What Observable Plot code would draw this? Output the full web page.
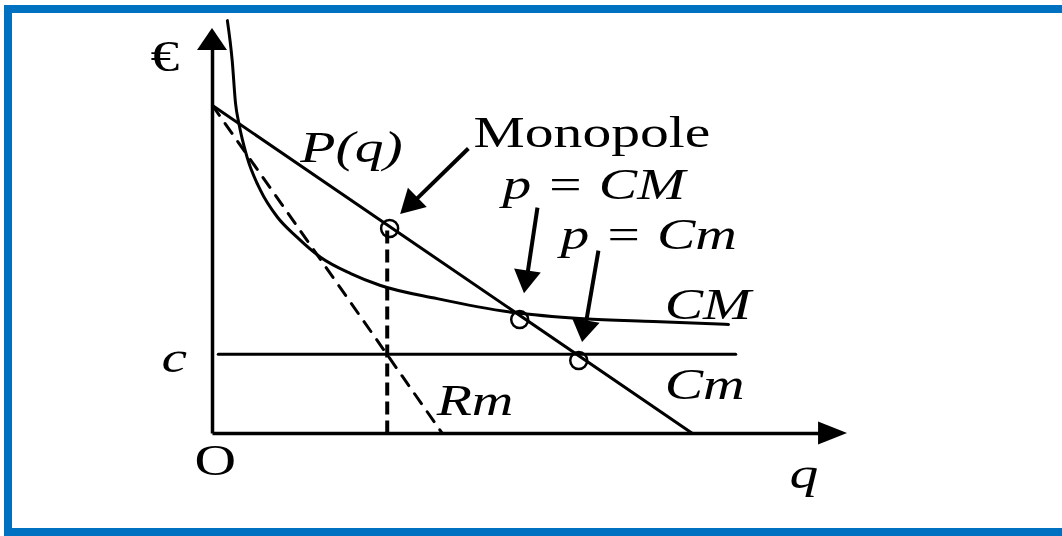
<!DOCTYPE html>
<html><head><meta charset="utf-8">
<script src="https://cdn.jsdelivr.net/npm/d3@7"></script>
<script src="https://cdn.jsdelivr.net/npm/@observablehq/plot@0.6"></script>
<style>
html,body{margin:0;padding:0;background:#fff;width:1062px;height:536px;overflow:hidden;}
#frame{position:absolute;left:4px;top:5px;width:1050px;height:515px;border-top:8px solid #0070C0;border-left:8px solid #0070C0;border-bottom:8px solid #0070C0;box-sizing:content-box;}
#chart{position:absolute;left:0;top:0;}
</style></head><body>
<div id="frame"></div><div id="chart"></div>
<script>
// ---- data (q = quantity, p = price in €) ----
const demandQ = [0, 10];
const demandP = [8, 0];
const rmQ = [0, 4.79];
const rmP = [8, 0];
const cmQ = [0.12, 10.9];
const cmP = [1.93, 1.93];
const acQ = [0.31, 0.41, 0.48, 0.55, 0.72, 1.0, 1.35, 1.76, 2.25, 2.88, 3.5, 4.68, 6.27, 7.73, 9.19, 10.75];
const acP = [10.07, 9.10, 8.05, 7.56, 6.74, 5.93, 5.28, 4.79, 4.30, 3.90, 3.61, 3.29, 2.95, 2.80, 2.73, 2.66];
const monoQ = 3.64;
const monoP = 5.0;
const pointQ = [3.69, 6.40, 7.63];
const pointP = [5.0, 2.78, 1.78];
// arrows: y axis, x axis, Monopole, p = CM, p = Cm
const arrowQ0 = [0, 0, 5.33, 6.77, 8.04];
const arrowP0 = [0, 0, 6.95, 5.51, 4.46];
const arrowQ1 = [0, 13.23, 3.92, 6.5, 7.71];
const arrowP1 = [9.88, 0, 5.34, 3.41, 2.22];
// labels
const labelText = ["€", "Monopole", "P(q)", "p = CM", "p = Cm", "CM", "Cm", "Rm", "c", "q", "O"];
const labelQ = [-1.29, 5.44, 1.83, 6.04, 7.25, 9.42, 9.42, 4.67, -1.06, 12.02, 0.06];
const labelP = [8.85, 6.98, 6.61, 5.73, 4.51, 2.80, 0.85, 0.44, 1.49, -1.34, -1.02];
const labelItalic = [false, false, true, true, true, true, true, true, true, true, false];

// ---- scales ----
const X = {type: "linear", domain: [0, 10], range: [212, 692], axis: null};
const Y = {type: "linear", domain: [0, 8], range: [433, 105], axis: null};
const xs = d3.scaleLinear().domain(X.domain).range(X.range);
const ys = d3.scaleLinear().domain(Y.domain).range(Y.range);

const headLen = [22, 29, 24, 23, 22];
const headWid = [30, 23, 27, 27, 28];
const shaftW = [3.5, 3.5, 4, 4, 4];

const shafts = [], heads = [];
arrowQ0.forEach((_, i) => {
  const x0 = xs(arrowQ0[i]), y0 = ys(arrowP0[i]), x1 = xs(arrowQ1[i]), y1 = ys(arrowP1[i]);
  const L = Math.hypot(x1 - x0, y1 - y0), ux = (x1 - x0) / L, uy = (y1 - y0) / L;
  const bx = x1 - ux * headLen[i], by = y1 - uy * headLen[i];
  const px = -uy, py = ux, w = headWid[i] / 2;
  const sx = bx + ux * 3, sy = by + uy * 3;
  shafts.push({id: i, q0: arrowQ0[i], p0: arrowP0[i], q1: xs.invert(sx), p1: ys.invert(sy), w: shaftW[i]});
  heads.push({id: i, qa: arrowQ1[i], pa: arrowP1[i], qb: arrowQ1[i], pb: arrowP1[i]});
  heads.push({id: i, qa: xs.invert(bx + px * w), pa: ys.invert(by + py * w), qb: xs.invert(bx - px * w), pb: ys.invert(by - py * w)});
});

const rows = (a, b) => a.map((v, i) => [v, b[i]]);
const labels = labelText.map((t, i) => ({t, q: labelQ[i], p: labelP[i], it: labelItalic[i]}));
const font = {fontFamily: "Liberation Serif, Times New Roman, serif", fontSize: 45, fill: "black", lineAnchor: "bottom"};

const chart = Plot.plot({
  width: 1062, height: 536, margin: 0,
  x: X, y: Y,
  style: {background: "transparent", overflow: "visible"},
  marks: [
    Plot.line(rows(demandQ, demandP), {stroke: "black", strokeWidth: 3}),
    Plot.line(rows(rmQ, rmP), {stroke: "black", strokeWidth: 3, strokeDasharray: "12,10"}),
    Plot.line(rows(cmQ, cmP), {stroke: "black", strokeWidth: 3}),
    Plot.line(rows(acQ, acP), {stroke: "black", strokeWidth: 3, curve: "monotone-x"}),
    Plot.link([{q: monoQ, p0: 0, p1: monoP}], {x1: "q", x2: "q", y1: "p0", y2: "p1", stroke: "black", strokeWidth: 4, strokeDasharray: "13,6"}),
    Plot.link(shafts, {x1: "q0", y1: "p0", x2: "q1", y2: "p1", stroke: "black", strokeWidth: "w"}),
    Plot.area(heads, {x1: "qb", y1: "pb", x2: "qa", y2: "pa", z: "id", fill: "black"}),
    Plot.dot(rows(pointQ, pointP), {r: 8.5, stroke: "black", strokeWidth: 2.5, fill: "none"}),
    Plot.text(labels.filter(d => d.it && d.t !== "O"), {x: "q", y: "p", text: "t", textAnchor: "start", fontStyle: "italic", ...font}),
    Plot.text(labels.filter(d => !d.it && d.t !== "O"), {x: "q", y: "p", text: "t", textAnchor: "start", ...font}),
    Plot.text(labels.filter(d => d.t === "O"), {x: "q", y: "p", text: "t", textAnchor: "middle", ...font})
  ]
});
chart.querySelectorAll("text").forEach(t => {
  const tr = t.getAttribute("transform") || "";
  t.setAttribute("transform", tr + " scale(1.28,1)");
});
document.getElementById("chart").appendChild(chart);
</script></body></html>
